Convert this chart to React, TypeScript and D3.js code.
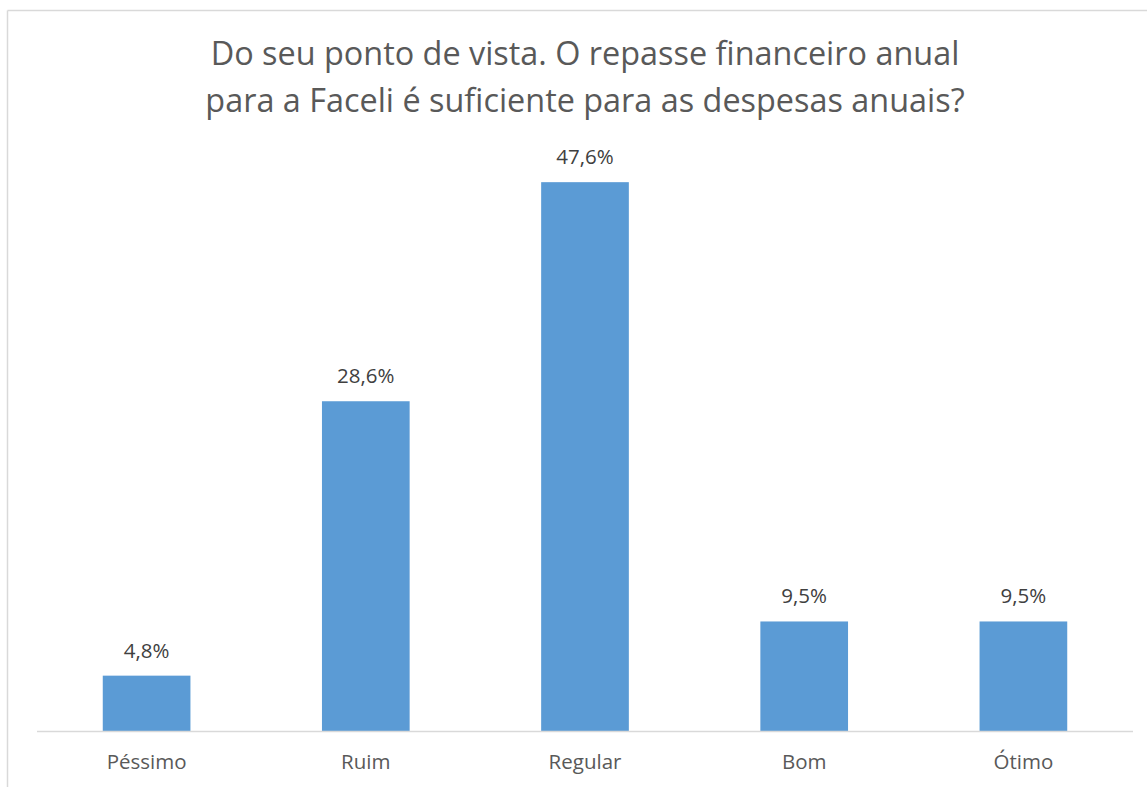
import React from "react";
import * as d3 from "d3";

const categories = ["Péssimo", "Ruim", "Regular", "Bom", "Ótimo"];
const values = [4.8, 28.6, 47.6, 9.5, 9.5];
const valueLabels = ["4,8%", "28,6%", "47,6%", "9,5%", "9,5%"];
const titleLines = [
  "Do seu ponto de vista. O repasse financeiro anual",
  "para a Faceli é suficiente para as despesas anuais?",
];

export default function App() {
  const W = 1147, H = 787;
  const left = 37, right = 1133, baseY = 731, topY = 154.5;
  const x = d3.scaleBand().domain(categories).range([left, right]).paddingInner(0.6).paddingOuter(0.3);
  const y = d3.scaleLinear().domain([0, 50]).range([baseY, topY]);
  const font = "'Open Sans', 'Noto Sans', sans-serif";
  return (
    <svg width={W} height={H} style={{ position: "fixed", left: 0, top: 0, background: "#fff" }}>
      <rect x={0} y={0} width={W} height={H} fill="#fff" />
      <line x1={7.5} y1={10.5} x2={W} y2={10.5} stroke="#d9d9d9" strokeWidth={1.5} />
      <line x1={7.5} y1={10.5} x2={7.5} y2={H} stroke="#d9d9d9" strokeWidth={1.5} />
      {titleLines.map((t, i) => (
        <text key={i} x={585} y={65 + i * 47} textAnchor="middle" fontFamily={font} fontSize={32.4} fill="#595959">
          {t}
        </text>
      ))}
      {categories.map((c, i) => (
        <g key={c}>
          <rect x={x(c)} y={y(values[i])} width={x.bandwidth()} height={baseY - y(values[i])} fill="#5b9bd5" />
          <text x={x(c)! + x.bandwidth() / 2} y={y(values[i]) - 18} textAnchor="middle" fontFamily={font} fontSize={20.5} fill="#404040">
            {valueLabels[i]}
          </text>
          <text x={x(c)! + x.bandwidth() / 2} y={769} textAnchor="middle" fontFamily={font} fontSize={20.5} fill="#595959">
            {c}
          </text>
        </g>
      ))}
      <line x1={left} y1={baseY + 0.5} x2={right} y2={baseY + 0.5} stroke="#d9d9d9" strokeWidth={1.5} />
    </svg>
  );
}
